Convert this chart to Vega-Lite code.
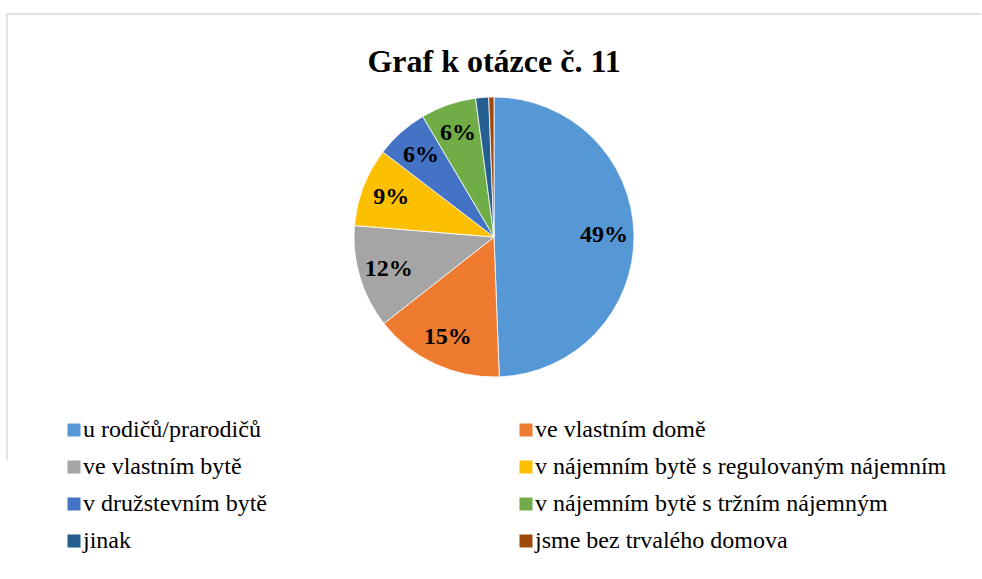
{
  "$schema": "https://vega.github.io/schema/vega-lite/v6.json",
  "width": 974,
  "height": 446,
  "autosize": {"type": "none"},
  "padding": {"left": 7, "top": 14, "right": 1, "bottom": 119},
  "background": "#ffffff",
  "view": {"stroke": "#d9d9d9", "strokeWidth": 1.5, "strokeDash": [974, 1420, 446]},
  "title": {
    "text": "Graf k otázce č. 11",
    "font": "Liberation Serif",
    "fontSize": 32,
    "fontWeight": "bold",
    "color": "#000000",
    "anchor": "middle",
    "orient": "top",
    "baseline": "alphabetic",
    "offset": -90
  },
  "config": {
    "legend": {"padding": 0}
  },
  "data": {
    "values": [
      {"cat": "u rodičů/prarodičů", "pct": 49.4, "ord": 1},
      {"cat": "ve vlastním domě", "pct": 15.0, "ord": 2},
      {"cat": "ve vlastním bytě", "pct": 11.9, "ord": 3},
      {"cat": "v nájemním bytě s regulovaným nájemním", "pct": 9.1, "ord": 4},
      {"cat": "v družstevním bytě", "pct": 6.1, "ord": 5},
      {"cat": "v nájemním bytě s tržním nájemným", "pct": 6.4, "ord": 6},
      {"cat": "jinak", "pct": 1.5, "ord": 7},
      {"cat": "jsme bez trvalého domova", "pct": 0.6, "ord": 8}
    ]
  },
  "transform": [
    {"calculate": "datum.pct >= 3 ? format(datum.pct, '.0f') + '%' : ''", "as": "label"}
  ],
  "encoding": {
    "theta": {"field": "pct", "type": "quantitative", "stack": true},
    "order": {"field": "ord", "type": "quantitative"}
  },
  "layer": [
    {
      "mark": {"type": "arc", "outerRadius": 140, "stroke": "#ffffff", "strokeWidth": 0.8},
      "encoding": {
        "color": {
          "field": "cat",
          "type": "nominal",
          "sort": null,
          "scale": {
            "domain": ["u rodičů/prarodičů", "ve vlastním domě", "ve vlastním bytě", "v nájemním bytě s regulovaným nájemním", "v družstevním bytě", "v nájemním bytě s tržním nájemným", "jinak", "jsme bez trvalého domova"],
            "range": ["#5697d6", "#ee7b30", "#a5a5a5", "#fcc000", "#4472c4", "#70ad47", "#255e91", "#9e480e"]
          },
          "legend": {
            "title": null,
            "orient": "none",
            "direction": "horizontal",
            "legendX": 55,
            "legendY": 404,
            "columns": 2,
            "columnPadding": 247,
            "rowPadding": 13,
            "symbolType": "square",
            "symbolSize": 169,
            "symbolStrokeWidth": 0,
            "labelFont": "Liberation Serif",
            "labelFontSize": 24,
            "labelColor": "#000000",
            "labelOffset": -3,
            "labelLimit": 600
          }
        }
      }
    },
    {
      "mark": {"type": "text", "radius": 110, "font": "Liberation Serif", "fontSize": 24, "fontWeight": "bold", "color": "#000000"},
      "encoding": {"text": {"field": "label"}}
    }
  ]
}
